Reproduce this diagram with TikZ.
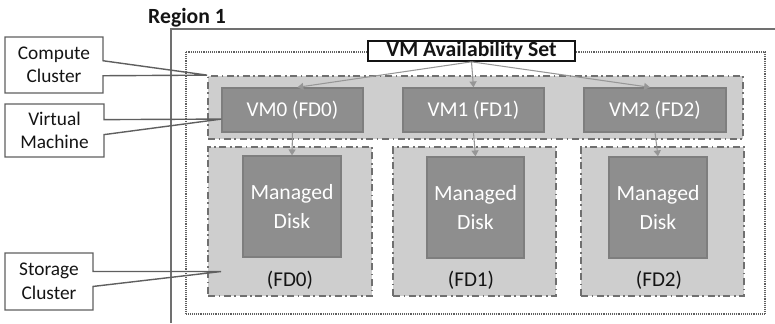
\documentclass[tikz,border=0pt]{standalone}
\usepackage{fontspec}
\setmainfont{Carlito}
\usepackage{xcolor}
\definecolor{azblack}{RGB}{20,20,20}
\definecolor{azdark}{RGB}{95,95,95}
\definecolor{azmid}{RGB}{112,112,112}
\definecolor{azvm}{RGB}{142,142,142}
\definecolor{azlight}{RGB}{206,206,206}
\definecolor{azarrow}{RGB}{150,150,150}
\usepackage{tikz}
\usetikzlibrary{arrows.meta, positioning, fit, calc, shapes.callouts}

\tikzset{
  regionline/.style={line width=1.5pt, azmid},
  setline/.style={line width=0.9pt, azdark, dash pattern=on 0.7pt off 0.9pt},
  setlabel/.style={draw=azblack, fill=white, line width=1.4pt, inner sep=0pt},
  settext/.style={font=\fontsize{18.5}{21}\selectfont\bfseries, text=azblack},
  cluster/.style={draw=azmid, fill=azlight, line width=1.5pt, inner sep=0pt,
    dash pattern=on 6pt off 3pt on 1.5pt off 3pt},
  vmbox/.style={draw=azmid!90, fill=azvm, line width=1.2pt, inner sep=0pt},
  vmtext/.style={text=white, font=\fontsize{18}{21}\selectfont},
  disktext/.style={vmtext, align=center, font=\fontsize{18.5}{24}\selectfont},
  fdlabel/.style={font=\fontsize{18}{21}\selectfont, text=azblack},
  calloutbox/.style={rectangle callout, draw=azdark, line width=1.2pt, inner sep=0pt,
    callout pointer width=0.45cm},
  callouttext/.style={align=center, text=azblack, font=\fontsize{16.5}{20}\selectfont},
  feed/.style={-{Triangle[width=6pt,length=5pt]}, azarrow, line width=0.9pt},
}

\begin{document}
\begin{tikzpicture}[x=0.03cm, y=-0.03cm]
  \useasboundingbox (0,0) rectangle (775,323);

  % --- Region ---
  \node[settext] (region) at (187,18) {Region 1};
  \draw[regionline] (171,323) |- (775,29);

  % --- Availability set ---
  \draw[setline] (186,52) rectangle (765,314);
  \node[setlabel, fit={(368,41) (575,61)}, label={[settext]center:VM Availability Set}] (avs) {};

  % --- Compute cluster ---
  \node[cluster, fit={(208,76) (743,139)}] (cc) {};
  \node[vmbox, fit={(222,88) (363,132)}, label={[vmtext]center:VM0 (FD0)}] (vm0) {};
  \node[vmbox, fit={(403,88) (544,132)}, label={[vmtext]center:VM1 (FD1)}] (vm1) {};
  \node[vmbox, fit={(584,88) (726,132)}, label={[vmtext]center:VM2 (FD2)}] (vm2) {};

  % --- Storage clusters ---
  \node[cluster, fit={(208,147) (372,296)}] (fd0) {};
  \node[cluster, fit={(393,147) (556,296)}] (fd1) {};
  \node[cluster, fit={(581,147) (744,296)}] (fd2) {};
  \node[vmbox, fit={(243,156) (341,257)}, label={[disktext]center:Managed\\Disk}] (md0) {};
  \node[vmbox, fit={(427,157) (524,258)}, label={[disktext]center:Managed\\Disk}] (md1) {};
  \node[vmbox, fit={(609,157) (707,258)}, label={[disktext]center:Managed\\Disk}] (md2) {};
  \node[fdlabel] (fdl0) at (290,280) {(FD0)};
  \node[fdlabel] (fdl1) at (471,280) {(FD1)};
  \node[fdlabel] (fdl2) at (659,280) {(FD2)};

  % Arrows
  \draw[feed] (avs.south) -- ([xshift=0.15cm]vm0.north);
  \draw[feed] (avs.south) -- (vm1.north);
  \draw[feed] (avs.south) -- ([xshift=-0.15cm]vm2.north);
  \draw[feed] (vm0.south) -- (md0.north);
  \draw[feed] (vm1.south) -- (md1.north);
  \draw[feed] (vm2.south) -- (md2.north);

  % --- Callouts ---
  \coordinate (vmtip) at ($(vm0.south west)!0.3!(vm0.north west)$);
  \coordinate (sctip) at ($(fd0.west)+(14,50)$);
  \node[calloutbox, fit={(5,37) (103,93)}, callout absolute pointer={(cc.north west)},
    label={[callouttext]center:Compute\\Cluster}] (ccl) {};
  \node[calloutbox, fit={(5,104) (104,157)}, callout absolute pointer={(vmtip)},
    label={[callouttext]center:Virtual\\Machine}] (vml) {};
  \node[calloutbox, fit={(5,253) (93,310)}, callout absolute pointer={(sctip)},
    label={[callouttext]center:Storage\\Cluster}] (scl) {};
\end{tikzpicture}
\end{document}
